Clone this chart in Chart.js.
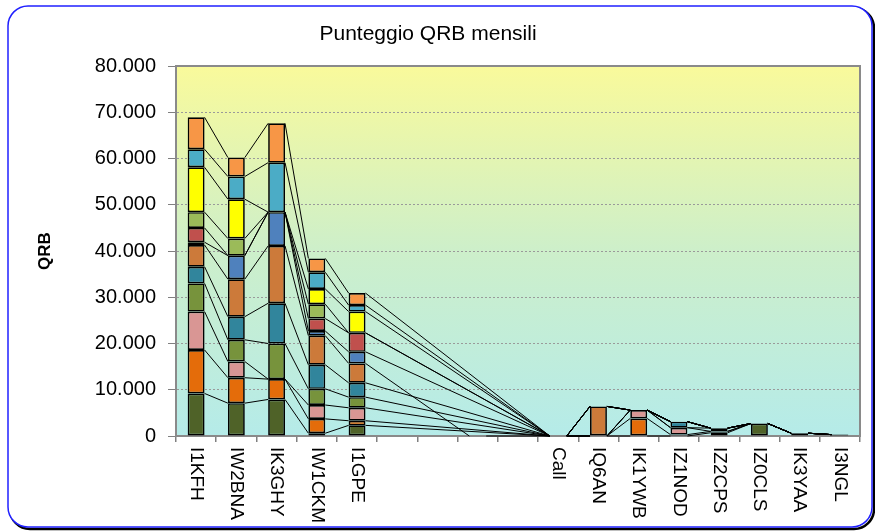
<!DOCTYPE html>
<html>
<head>
<meta charset="utf-8">
<script src="https://cdn.jsdelivr.net/npm/chart.js@4.4.1/dist/chart.umd.min.js"></script>
<style>
  html, body { margin: 0; padding: 0; background: #fff; }
</style>
</head>
<body>
<canvas id="qrbChart" width="875" height="531"></canvas>
<script>
// categorie (nominativi), 4 colonne vuote prima di "Call"
const calls = ['I1KFH', 'IW2BNA', 'IK3GHY', 'IW1CKM', 'I1GPE', '', '', '', '', 'Call',
  'IQ6AN', 'IK1YWB', 'IZ1NOD', 'IZ2CPS', 'IZ0CLS', 'IK3YAA', 'I3NGL'];

// serie impilate, dal basso verso l'alto
const round1 = [9200, 7100, 7900, 600, 2300, null, null, null, null, 0, 0, 0, 0, 700, 2700, 600, 300];
const round2 = [9400, 5500, 4400, 3100, 1000, null, null, null, null, 0, 0, 3800, 300, 300, 0, 0, 0];
const round3 = [8300, 3500, 0, 3000, 2800, null, null, null, null, 0, 0, 1800, 1500, 0, 0, 0, 0];
const round4 = [6100, 4700, 7700, 3500, 2300, null, null, null, null, 0, 0, 0, 0, 700, 0, 0, 0];
const round5 = [3600, 5000, 8700, 5200, 3100, null, null, null, null, 0, 0, 0, 1300, 0, 0, 0, 0];
const round6 = [4700, 8100, 12400, 6300, 4200, null, null, 0, null, 0, 6400, 0, 0, 0, 0, 0, 0];
const round7 = [600, 5100, 7300, 1000, 2500, null, null, null, null, 0, 0, 0, 0, 0, 0, 0, 0];
const round8 = [3100, 0, 0, 2700, 4100, null, null, null, null, 0, 0, 0, 0, 0, 0, 0, 0];
const round9 = [3400, 3700, 0, 3100, 0, null, null, null, null, 0, 0, 0, 0, 0, 0, 0, 0];
const round10 = [9700, 8500, 0, 3300, 4600, null, null, null, null, 0, 0, 0, 0, 0, 0, 0, 0];
const round11 = [3900, 4900, 10700, 3600, 1400, null, null, null, null, 0, 0, 0, 0, 0, 0, 0, 0];
const round12 = [6900, 4100, 8500, 3000, 2600, null, null, null, null, 0, 0, 0, 0, 0, 0, 0, 0];

const yTicks = [0, 10000, 20000, 30000, 40000, 50000, 60000, 70000, 80000];

const allRounds = [round1, round2, round3, round4, round5, round6, round7, round8, round9, round10, round11, round12];
const colors = ['#4F6228', '#E46C0A', '#D99694', '#77933C', '#31859C', '#CC7A3A',
  '#4F81BD', '#C0504D', '#9BBB59', '#FFFF00', '#4BACC6', '#F79646'];

const FONT = '"Liberation Sans", Arial, sans-serif';
const TITLE = 'Punteggio QRB mensili';

function fmt(v) {
  return String(v).replace(/\B(?=(\d{3})+(?!\d))/g, '.');
}

// cornice arrotondata, titolo e sfondo sfumato dell'area del grafico
const framePlugin = {
  id: 'frame',
  beforeDraw(chart) {
    const { ctx, chartArea: a } = chart;
    ctx.save();
    ctx.fillStyle = '#fff';
    ctx.fillRect(0, 0, chart.width, chart.height);
    ctx.beginPath();
    ctx.roundRect(10, 8, 864, 521, 20);
    ctx.lineWidth = 2.5;
    ctx.strokeStyle = '#000';
    ctx.stroke();
    ctx.beginPath();
    ctx.roundRect(8, 6, 864, 521, 20);
    ctx.fillStyle = '#fff';
    ctx.fill();
    ctx.lineWidth = 1.5;
    ctx.strokeStyle = '#2020ff';
    ctx.stroke();

    ctx.fillStyle = '#000';
    ctx.font = '21px ' + FONT;
    ctx.textAlign = 'center';
    ctx.textBaseline = 'middle';
    ctx.fillText(TITLE, 428, 34);

    const g = ctx.createLinearGradient(0, a.top, 0, a.bottom);
    g.addColorStop(0, '#F9FA9B');
    g.addColorStop(0.5, '#CDEFCA');
    g.addColorStop(1, '#B5EBE9');
    ctx.fillStyle = g;
    ctx.fillRect(a.left, a.top, a.right - a.left, a.bottom - a.top);
    ctx.restore();
  },
  beforeDatasetsDraw(chart) {
    const { ctx, chartArea: a } = chart;
    ctx.save();
    ctx.strokeStyle = '#8a8a8a';
    ctx.lineWidth = 2;
    ctx.strokeRect(a.left, a.top, a.right - a.left, a.bottom - a.top);
    ctx.restore();
  }
};

// linee di serie tra le colonne (come in Excel)
const seriesLines = {
  id: 'seriesLines',
  afterDatasetsDraw(chart) {
    const ctx = chart.ctx;
    ctx.save();
    ctx.strokeStyle = '#000';
    ctx.lineWidth = 1;
    chart.data.datasets.forEach((ds, k) => {
      const meta = chart.getDatasetMeta(k);
      let prev = null;
      ds.data.forEach((v, i) => {
        if (v === null) return;
        const bar = meta.data[i];
        if (prev) {
          ctx.beginPath();
          ctx.moveTo(prev.x + prev.width / 2, prev.y);
          ctx.lineTo(bar.x - bar.width / 2, bar.y);
          ctx.stroke();
        }
        prev = bar;
      });
    });
    ctx.restore();
  }
};

// etichette asse x ruotate (lette dall'alto in basso)
const xLabels = {
  id: 'xLabels',
  afterDraw(chart) {
    const { ctx, scales: { x } } = chart;
    ctx.save();
    ctx.fillStyle = '#000';
    ctx.font = '19px ' + FONT;
    ctx.textAlign = 'left';
    ctx.textBaseline = 'middle';
    x.ticks.forEach((t, i) => {
      const label = chart.data.labels[i];
      if (!label) return;
      ctx.save();
      ctx.translate(x.getPixelForTick(i), x.top + 11);
      ctx.rotate(Math.PI / 2);
      ctx.fillText(label, 0, 0);
      ctx.restore();
    });
    ctx.restore();
  }
};

new Chart(document.getElementById('qrbChart'), {
  type: 'bar',
  data: {
    labels: calls,
    datasets: allRounds.map((d, k) => ({
      label: 'Serie ' + (k + 1),
      data: d,
      backgroundColor: colors[k],
      borderColor: '#000',
      borderWidth: 1.7,
      borderSkipped: false,
      barPercentage: 0.42,
      categoryPercentage: 1
    }))
  },
  plugins: [framePlugin, seriesLines, xLabels],
  options: {
    responsive: false,
    animation: false,
    layout: { padding: { left: 25, right: 15, top: 66, bottom: 5 } },
    plugins: {
      legend: { display: false },
      tooltip: { enabled: false },
      title: { display: false }
    },
    scales: {
      x: {
        stacked: true,
        afterFit(scale) { scale.height = 90; },
        ticks: { display: false },
        grid: { drawOnChartArea: false, color: '#808080', tickLength: 6, lineWidth: 1.5 },
        border: { color: '#8a8a8a', width: 2 }
      },
      y: {
        stacked: true,
        min: 0,
        max: 80000,
        afterFit(scale) { scale.width = 151; },
        afterBuildTicks(scale) { scale.ticks = yTicks.map(v => ({ value: v })); },
        ticks: {
          color: '#000',
          padding: 12,
          font: { family: FONT, size: 20 },
          callback: v => fmt(v)
        },
        grid: { color: '#9a9a9a', lineWidth: 1, tickColor: '#808080', tickLength: 8, tickBorderDash: [] },
        border: { color: '#8a8a8a', width: 2, dash: [2, 2] },
        title: {
          display: true,
          text: 'QRB',
          color: '#000',
          font: { family: FONT, size: 17, weight: 'bold' },
          padding: { top: 10, bottom: 0 }
        }
      }
    }
  }
});
</script>
</body>
</html>
